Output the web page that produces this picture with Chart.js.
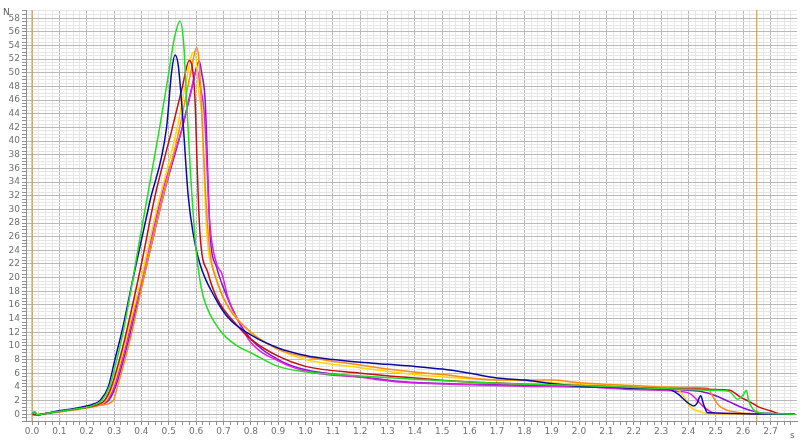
<!DOCTYPE html>
<html><head><meta charset="utf-8">
<script src="https://cdn.jsdelivr.net/npm/chart.js@4/dist/chart.umd.min.js"></script>
<style>html,body{margin:0;padding:0;background:#fff}canvas{display:block}</style>
</head><body>
<canvas id="c" width="800" height="441"></canvas>
<script>
// time (s) and force (N) for each curve
const greenX = [0,0.01,0.02,0.05,0.1,0.15,0.2,0.23,0.255,0.283,0.31,0.333,0.4,0.465,0.5,0.52,0.541,0.555,0.565,0.58,0.6,0.614,0.63,0.687,0.75,0.8,0.9,1.0,1.2,1.4,1.6,1.8,2.0,2.2,2.4,2.5,2.55,2.58,2.6,2.612,2.62,2.635,2.65,2.7,2.79];
const greenY = [0,0.3,-0.1,0.1,0.4,0.7,1.0,1.4,2,4,8,12,27,41.6,50,55,57.6,54,46,35,24,19.6,16.7,12.3,10,9,7,6.2,5.6,5.1,4.7,4.4,4.2,3.9,3.6,3.5,3.3,2.2,2.8,3.5,2.0,0.8,0.3,0.1,0];

const blueX = [0,0.01,0.02,0.05,0.1,0.15,0.2,0.225,0.249,0.279,0.303,0.328,0.37,0.43,0.492,0.51,0.523,0.535,0.55,0.571,0.589,0.614,0.67,0.72,0.8,0.9,1.0,1.1,1.2,1.3,1.4,1.5,1.6,1.7,1.8,1.9,2.0,2.1,2.2,2.33,2.36,2.4,2.42,2.43,2.445,2.455,2.47,2.79];
const blueY = [0,0.3,-0.1,0.1,0.5,0.8,1.2,1.5,2,4,8,12,20,31,42,50,52.6,51,44,32,26.5,22,17,14,11.6,9.7,8.6,8.0,7.6,7.3,7.0,6.6,6.0,5.3,5.0,4.5,4.1,4.0,3.8,3.6,3.0,1.6,1.2,1.5,2.7,1.5,0.2,0];

const redX = [0,0.02,0.05,0.1,0.15,0.2,0.24,0.265,0.29,0.32,0.345,0.4,0.45,0.511,0.55,0.575,0.585,0.596,0.605,0.614,0.644,0.676,0.75,0.8,0.9,1.0,1.2,1.4,1.6,1.8,2.0,2.2,2.4,2.55,2.59,2.625,2.66,2.7,2.73,2.79];
const redY = [0,-0.1,0.1,0.4,0.7,1.0,1.4,2,4,8,12,22,32,41.6,48,51.8,51,46,35,26.5,20.6,17,13,11,8.5,7,6,5.3,4.7,4.4,4.2,3.9,3.7,3.5,2.5,1.8,1.0,0.5,0.1,0];

const orangeX = [0,0.02,0.05,0.1,0.15,0.2,0.25,0.297,0.312,0.34,0.365,0.42,0.48,0.54,0.58,0.602,0.61,0.62,0.635,0.65,0.68,0.72,0.8,0.9,1.0,1.2,1.345,1.5,1.7,1.9,2.0,2.2,2.4,2.47,2.49,2.51,2.54,2.576,2.62,2.79];
const orangeY = [0,-0.1,0.1,0.3,0.6,0.9,1.3,2,4,8,12,22,32,42,50,53.7,52,45,32,24,19,15.5,12,9.5,8.4,7.2,6.4,5.8,5.0,5.0,4.6,4.2,3.9,3.8,2.5,1.3,0.6,0.3,0.1,0];

const yellowX = [0,0.02,0.05,0.1,0.15,0.2,0.245,0.27,0.295,0.325,0.35,0.4,0.45,0.529,0.56,0.59,0.6,0.61,0.62,0.639,0.669,0.7,0.75,0.8,0.9,1.0,1.2,1.4,1.6,1.8,1.9,2.0,2.2,2.3,2.35,2.38,2.406,2.44,2.467,2.79];
const yellowY = [0,-0.1,0.1,0.4,0.7,1.0,1.4,2,4,8,12,20,29,41.6,48,53,52,47,44,26.5,20.6,17,14,12,9.5,8,6.8,5.8,5.2,4.9,4.6,4.4,4.0,3.9,3.8,2.8,1.1,0.4,0.1,0];

const purpleX = [0,0.02,0.05,0.1,0.15,0.2,0.25,0.28,0.305,0.335,0.36,0.42,0.48,0.547,0.58,0.612,0.62,0.633,0.651,0.675,0.7,0.75,0.8,0.9,1.0,1.2,1.345,1.6,1.8,2.0,2.2,2.4,2.45,2.5,2.55,2.6,2.65,2.7,2.79];
const purpleY = [0,-0.1,0.1,0.4,0.7,1.0,1.4,2,4,8,12,22,32,41.6,47,51.7,50,46,26.5,21.5,18.5,14,11,8,6.5,5.5,4.8,4.4,4.2,4.0,3.8,3.5,3.3,2.7,1.8,0.9,0.3,0.1,0];

const magentaX = [0,0.02,0.05,0.1,0.15,0.2,0.25,0.275,0.3,0.33,0.355,0.42,0.48,0.55,0.585,0.603,0.615,0.63,0.65,0.675,0.694,0.717,0.75,0.8,0.9,1.0,1.2,1.345,1.6,1.8,2.0,2.2,2.37,2.406,2.455,2.5,2.79];
const magentaY = [0,-0.1,0.1,0.4,0.7,1.0,1.4,2,4,8,12,23,33,42,48,50.5,48,44,28,22,20.6,17,14,10.5,7.8,6.3,5.4,4.7,4.3,4.1,4.0,3.6,3.3,3.0,1.1,0.1,0];

// vertical marker lines (s)
const markerX = [0, 2.65];

// tick label settings
const xMajorStep = 0.1;
const yMajorStep = 2;

function pts(xs, ys){ return xs.map((x,i)=>({x:x, y:ys[i]})); }

const series = [
  {label:'green', xs:greenX, ys:greenY, color:'#22dd22'},
  {label:'blue', xs:blueX, ys:blueY, color:'#0a0aa8'},
  {label:'red', xs:redX, ys:redY, color:'#c41010'},
  {label:'orange', xs:orangeX, ys:orangeY, color:'#ff8a10'},
  {label:'yellow', xs:yellowX, ys:yellowY, color:'#ffd800'},
  {label:'magenta', xs:magentaX, ys:magentaY, color:'#e020e0'},
  {label:'purple', xs:purpleX, ys:purpleY, color:'#8a10e0'}
];

const datasets = series.map(s=>({
  label:s.label, data:pts(s.xs,s.ys), borderColor:s.color, borderWidth:1.5,
  pointRadius:0, fill:false, cubicInterpolationMode:'monotone'
}));
markerX.forEach(m=>datasets.push({
  label:'marker', data:[{x:m,y:-1},{x:m,y:59.2}], borderColor:'#c89a3a', borderWidth:1,
  pointRadius:0, fill:false
}));

function isMajor(v, step){ const r = v/step; return Math.abs(r-Math.round(r))<1e-6; }

const axisLabels = {
  id:'axisLabels',
  afterDraw(chart){
    const ctx = chart.ctx;
    ctx.save();
    ctx.fillStyle = '#606060';
    ctx.font = '9px "DejaVu Sans"';
    ctx.textBaseline = 'middle';
    ctx.textAlign = 'left';
    ctx.fillText('N', 3, 13);
    ctx.fillText('s', 790, 436);
    ctx.restore();
  }
};

new Chart(document.getElementById('c'), {
  type:'line',
  data:{datasets},
  plugins:[axisLabels],
  options:{
    responsive:false, animation:false,
    layout:{padding:{top:10,right:3,left:0,bottom:0}},
    plugins:{legend:{display:false}, tooltip:{enabled:false}},
    scales:{
      x:{
        type:'linear', min:-0.022, max:2.797,
        afterFit(s){ s.height = 20; },
        ticks:{stepSize:0.025, autoSkip:false, maxRotation:0, padding:1, includeBounds:false,
          font:{family:'DejaVu Sans', size:9}, color:'#707070',
          callback(v){ return isMajor(v,xMajorStep) && v>-1e-6 ? Math.abs(v).toFixed(1) : ''; }},
        grid:{
          color(c){ const v=c.tick?c.tick.value:0; return isMajor(v,xMajorStep)?'#b8b8b8':'#e6e6e6'; },
          tickColor:'#909090', tickLength:4, lineWidth:1
        },
        border:{color:'#909090'}
      },
      y:{
        type:'linear', min:-1, max:59.2,
        afterFit(s){ s.width = 26; },
        ticks:{stepSize:0.5, autoSkip:false, padding:2,
          font:{family:'DejaVu Sans', size:9}, color:'#707070',
          callback(v){ return isMajor(v,yMajorStep) && v>-1e-6 ? String(Math.round(v)) : ''; }},
        grid:{
          color(c){ const v=c.tick?c.tick.value:0; return isMajor(v,yMajorStep)?'#b8b8b8':'#e6e6e6'; },
          tickColor:'#909090', tickLength:4, lineWidth:1
        },
        border:{color:'#909090'}
      }
    }
  }
});
</script>
</body></html>
